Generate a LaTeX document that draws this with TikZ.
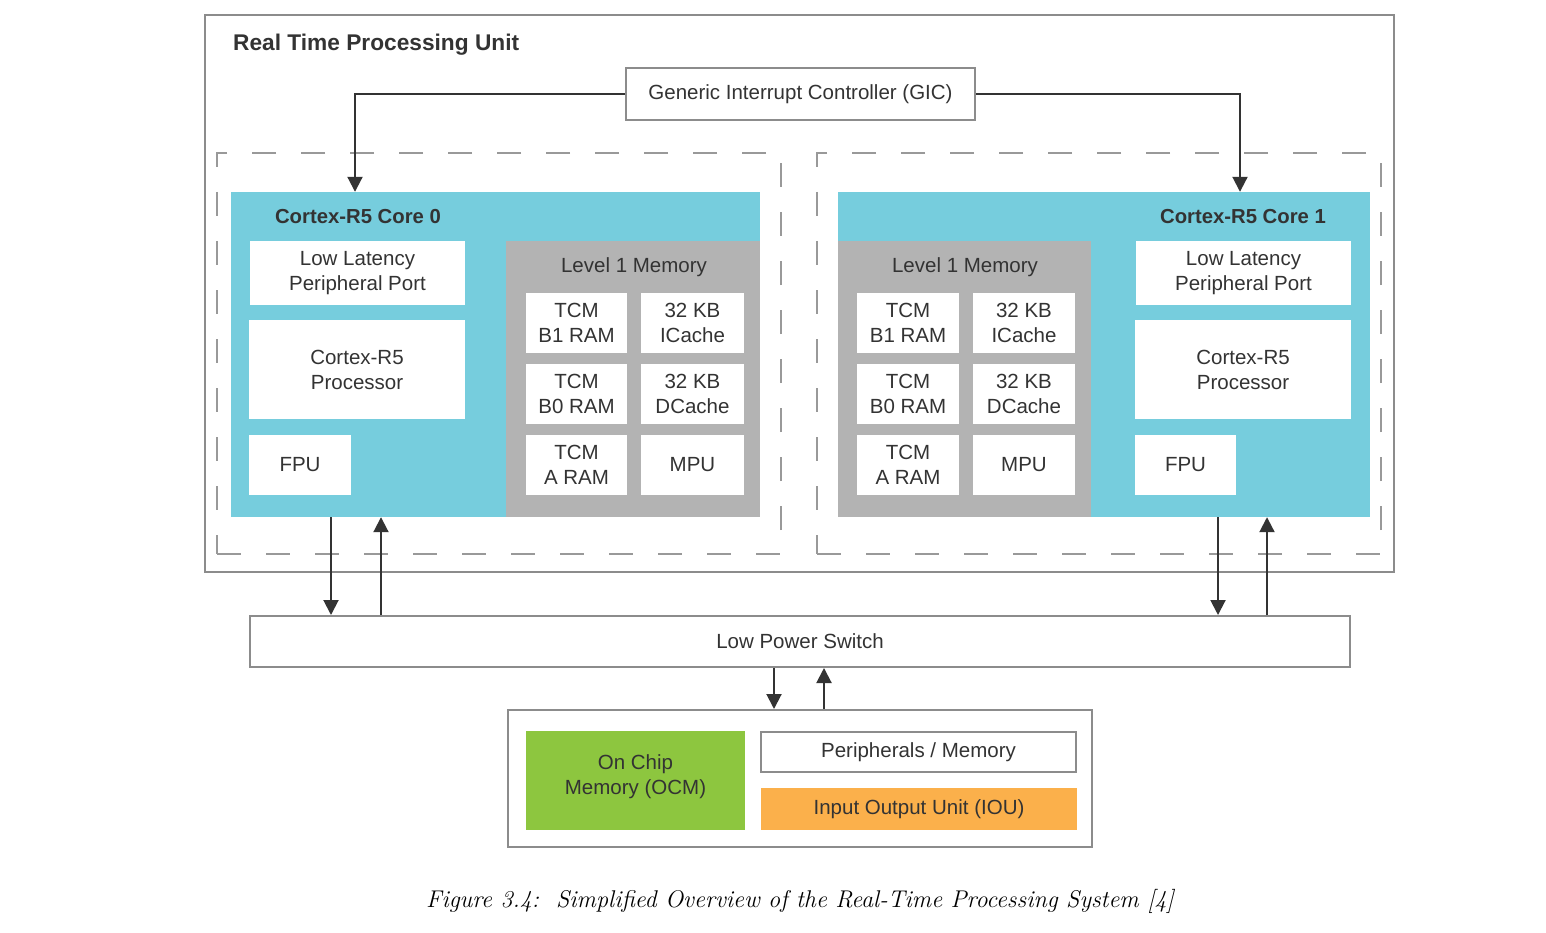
\documentclass[tikz,border=0pt]{standalone}
\usepackage{fontspec}
\setmainfont{Liberation Sans}
\newfontfamily\capfont{Latin Modern Roman}
\usetikzlibrary{arrows.meta}
\definecolor{txt}{HTML}{333333}
\definecolor{bord}{HTML}{8C8C8C}
\definecolor{dash}{HTML}{999999}
\definecolor{cyanc}{HTML}{76CDDD}
\definecolor{grayc}{HTML}{B3B3B3}
\definecolor{greenc}{HTML}{8DC63F}
\definecolor{orangec}{HTML}{FBB04B}
\tikzset{
  lbl/.style={text=txt, font=\fontsize{20.5}{25}\selectfont, align=center},
  bold/.style={text=txt, font=\bfseries\fontsize{20.3}{25}\selectfont},
  frame/.style={draw=bord, line width=2pt, fill=white, inner sep=0pt, lbl},
  area/.style={inner sep=0pt, draw=none},
  dashbox/.style={draw=dash, line width=2pt, dash pattern=on 24pt off 25pt, inner sep=0pt},
  cell/.style={fill=white, inner sep=0pt, lbl},
  arr/.style={draw=txt, line width=2pt, -{Triangle[length=15pt,width=15pt]}},
}
\begin{document}
\begin{tikzpicture}[x=1pt,y=-1pt]
\fill[white] (0,0) rectangle (1546,933);
\useasboundingbox (0,0) rectangle (1546,933);

% Real time processing unit
\node[frame, minimum width=1189pt, minimum height=557pt] (rpu) at (799.5,293.5) {};
\node[anchor=base west, text=txt, font=\bfseries\fontsize{22.7}{26}\selectfont, inner sep=0pt] (rputitle) at (233,51) {Real Time Processing Unit};

\node[frame, minimum width=349pt, minimum height=52pt] (gic) at (800.5,94) {Generic Interrupt Controller (GIC)};

% dashed boxes
\node[dashbox, minimum width=564pt, minimum height=401pt] (d0) at (499,353.5) {};
\node[dashbox, minimum width=564pt, minimum height=401pt] (d1) at (1099,353.5) {};

% Core 0
\node[area, fill=cyanc, minimum width=529pt, minimum height=325pt] (core0) at (495.5,354.5) {};
\node[bold] (t0) at (358,217) {Cortex-R5 Core 0};
\node[cell, minimum width=215pt, minimum height=64pt] (llpp0) at (357.5,273) {Low Latency\\Peripheral Port};
\node[cell, minimum width=216pt, minimum height=99pt] (proc0) at (357,369.5) {Cortex-R5\\Processor};
\node[cell, minimum width=102pt, minimum height=60pt] (fpu0) at (300,465) {FPU};
\node[area, fill=grayc, minimum width=254pt, minimum height=276pt] (l10) at (633,379) {};
\node[lbl] (l10t) at (634,267) {Level 1 Memory};
\node[cell, minimum width=101pt, minimum height=60pt] (b1a) at (576.5,323) {TCM\\B1 RAM};
\node[cell, minimum width=103pt, minimum height=60pt] (ica) at (692.5,323) {32 KB\\ICache};
\node[cell, minimum width=101pt, minimum height=60pt] (b0a) at (576.5,394) {TCM\\B0 RAM};
\node[cell, minimum width=103pt, minimum height=60pt] (dca) at (692.5,394) {32 KB\\DCache};
\node[cell, minimum width=101pt, minimum height=60pt] (aa) at (576.5,465) {TCM\\A RAM};
\node[cell, minimum width=103pt, minimum height=60pt] (mpua) at (692.5,465) {MPU};

% Core 1
\node[area, fill=cyanc, minimum width=532pt, minimum height=325pt] (core1) at (1104,354.5) {};
\node[bold] (t1) at (1243,217) {Cortex-R5 Core 1};
\node[cell, minimum width=215pt, minimum height=64pt] (llpp1) at (1243.5,273) {Low Latency\\Peripheral Port};
\node[cell, minimum width=216pt, minimum height=99pt] (proc1) at (1243,369.5) {Cortex-R5\\Processor};
\node[cell, minimum width=101pt, minimum height=60pt] (fpu1) at (1185.5,465) {FPU};
\node[area, fill=grayc, minimum width=253pt, minimum height=276pt] (l11) at (964.5,379) {};
\node[lbl] (l11t) at (965,267) {Level 1 Memory};
\node[cell, minimum width=102pt, minimum height=60pt] (b1b) at (908,323) {TCM\\B1 RAM};
\node[cell, minimum width=102pt, minimum height=60pt] (icb) at (1024,323) {32 KB\\ICache};
\node[cell, minimum width=102pt, minimum height=60pt] (b0b) at (908,394) {TCM\\B0 RAM};
\node[cell, minimum width=102pt, minimum height=60pt] (dcb) at (1024,394) {32 KB\\DCache};
\node[cell, minimum width=102pt, minimum height=60pt] (ab) at (908,465) {TCM\\A RAM};
\node[cell, minimum width=102pt, minimum height=60pt] (mpub) at (1024,465) {MPU};

% Low power switch
\node[frame, minimum width=1100pt, minimum height=51pt] (lps) at (800,641.5) {Low Power Switch};

% bottom
\node[frame, minimum width=584pt, minimum height=137pt] (bot) at (800,778.5) {};
\node[area, fill=greenc, minimum width=219pt, minimum height=99pt,
      label={[lbl, yshift=4pt]center:{On Chip\\Memory (OCM)}}] (ocm) at (635.5,780.5) {};
\node[frame, minimum width=315pt, minimum height=40pt] (pm) at (918.5,752) {Peripherals / Memory};
\node[area, fill=orangec, minimum width=316pt, minimum height=42pt, lbl] (iou) at (919,809) {Input Output Unit (IOU)};

% caption
\node[text=black, font=\capfont\itshape\fontsize{24.2}{28}\selectfont] (cap) at (800,901) {Figure 3.4:\ \ Simplified Overview of the Real-Time Processing System [4]};

% connectors
\coordinate (xa) at (331,0);
\coordinate (xb) at (381,0);
\coordinate (xc) at (1218,0);
\coordinate (xd) at (1267,0);
\coordinate (xe) at (774,0);
\coordinate (xf) at (824,0);
\coordinate (xg) at (355,0);
\coordinate (xh) at (1240,0);
\draw[arr] (gic.west) -| (core0.north -| xg);
\draw[arr] (gic.east) -| (core1.north -| xh);
\draw[arr] (core0.south -| xa) -- (lps.north -| xa);
\draw[arr] (lps.north -| xb) -- (core0.south -| xb);
\draw[arr] (core1.south -| xc) -- (lps.north -| xc);
\draw[arr] (lps.north -| xd) -- (core1.south -| xd);
\draw[arr] (lps.south -| xe) -- (bot.north -| xe);
\draw[arr] (bot.north -| xf) -- (lps.south -| xf);
\end{tikzpicture}
\end{document}
